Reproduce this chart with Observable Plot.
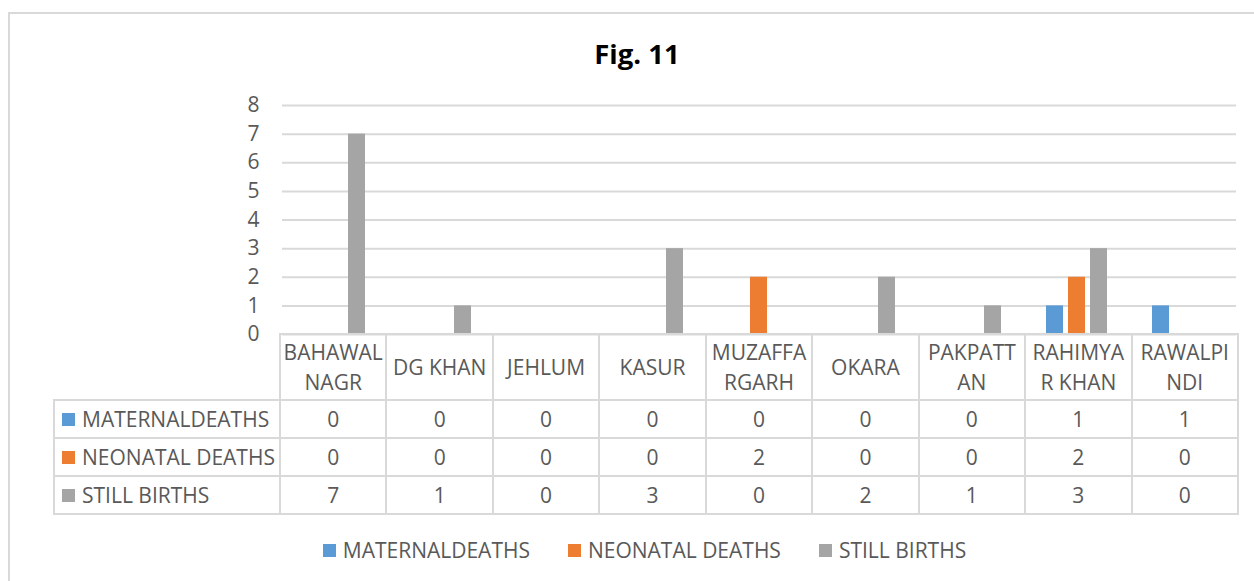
<!DOCTYPE html>
<html>
<head>
<meta charset="utf-8">
<script src="https://cdn.jsdelivr.net/npm/d3@7"></script>
<script src="https://cdn.jsdelivr.net/npm/@observablehq/plot@0.6"></script>
<style>
  html, body { margin: 0; padding: 0; background: #fff; overflow: hidden; }
  #wrap { position: relative; width: 1254px; height: 581px; overflow: hidden; font-family: "Open Sans", sans-serif; color: #595959; }
  #frame { position: absolute; left: 8px; top: 12px; width: 1400px; height: 800px; border-top: 2px solid #d9d9d9; border-left: 2px solid #d9d9d9; }
  #title { position: absolute; left: 0; width: 1274px; top: 40px; line-height: 27px; text-align: center; font-size: 27.5px; font-weight: bold; color: #000; }
  #chart { position: absolute; left: 0; top: 0; }
  #chart svg text { font-size: 21px; }
  .line { position: absolute; background: #d9d9d9; }
  .cell { position: absolute; display: flex; align-items: center; justify-content: center; text-align: center; font-size: 21px; line-height: 30px; white-space: pre; }
  .rowlab { position: absolute; display: flex; align-items: center; font-size: 21px; white-space: pre; }
  .sw { display: inline-block; width: 13px; height: 13px; margin-right: 7px; }
  #legend { position: absolute; left: 0; width: 1289px; top: 536px; display: flex; justify-content: center; gap: 38px; font-size: 21px; line-height: 28px; }
  #legend .item { display: flex; align-items: center; white-space: pre; }
</style>
</head>
<body>
<div id="wrap">
  <div id="frame"></div>
  <div id="chart"></div>
  <div id="title">Fig. 11</div>
  <div id="legend"></div>
</div>
<script>
const districts = ["BAHAWALNAGR","DG KHAN","JEHLUM","KASUR","MUZAFFARGARH","OKARA","PAKPATTAN","RAHIMYAR KHAN","RAWALPINDI"];
const districtLabels = ["BAHAWAL\nNAGR","DG KHAN","JEHLUM","KASUR","MUZAFFA\nRGARH","OKARA","PAKPATT\nAN","RAHIMYA\nR KHAN","RAWALPI\nNDI"];
const seriesNames = ["MATERNALDEATHS","NEONATAL DEATHS","STILL BIRTHS"];
const maternalDeaths = [0,0,0,0,0,0,0,1,1];
const neonatalDeaths = [0,0,0,0,2,0,0,2,0];
const stillBirths = [7,1,0,3,0,2,1,3,0];
const seriesColors = ["#5b9bd5","#ed7d31","#a5a5a5"];
const yTicks = [0,1,2,3,4,5,6,7,8];

const seriesValues = [maternalDeaths, neonatalDeaths, stillBirths];
const rows = [];
districts.forEach((d, i) => seriesNames.forEach((s, j) => rows.push({district: d, series: s, value: seriesValues[j][i]})));

const W = 1254, H = 336, ML = 280, MR = 16, MT = 105, MB = 2;
const FONT = '"Open Sans", sans-serif';

const chart = Plot.plot({
  width: W, height: H,
  marginLeft: ML, marginRight: MR, marginTop: MT, marginBottom: MB,
  facet: {data: rows, x: "district", marginTop: 0, marginBottom: 0},
  fx: {domain: districts, padding: 0, axis: null, label: null},
  x: {domain: seriesNames, paddingInner: 0.217, paddingOuter: 0.92, axis: null},
  y: {domain: [0, 8], ticks: yTicks, tickSize: 0, tickPadding: 23, label: null, tickFormat: d => String(d)},
  color: {domain: seriesNames, range: seriesColors},
  style: {fontFamily: FONT, fontSize: "21px", color: "#595959", background: "transparent", overflow: "visible"},
  marks: [
    Plot.ruleY(yTicks, {stroke: "#d9d9d9", strokeWidth: 2}),
    Plot.barY(rows, {x: "series", y: "value", fill: "series"})
  ]
});
document.getElementById("chart").appendChild(chart);

// Data table below the plot, aligned with the same band positions as the facets
const wrap = document.getElementById("wrap");
const band = d3.scaleBand(districts, [ML, W - MR]).paddingInner(0).paddingOuter(0);
const y0 = H - MB;          // baseline of the plot (0)
const headerBottom = 400;
const rowH = 38;
const tableLeft = 54;
const tableRight = W - MR;
const tableBottom = headerBottom + rowH * seriesNames.length;

function line(x, y, w, h) {
  const el = document.createElement("div");
  el.className = "line";
  el.style.left = x + "px"; el.style.top = y + "px";
  el.style.width = w + "px"; el.style.height = h + "px";
  wrap.appendChild(el);
}
const LW = 2;
line(ML - 1, y0 - 1, tableRight - ML + LW, LW);
for (let r = 0; r <= seriesNames.length; r++) line(tableLeft - 1, headerBottom + r * rowH - 1, tableRight - tableLeft + LW, LW);
line(tableLeft - 1, headerBottom - 1, LW, tableBottom - headerBottom + LW);
districts.forEach(d => line(band(d) - 1, y0 - 1, LW, tableBottom - y0 + LW));
line(tableRight - 1, y0 - 1, LW, tableBottom - y0 + LW);

districts.forEach((d, i) => {
  const c = document.createElement("div");
  c.className = "cell";
  c.style.left = band(d) + "px"; c.style.width = band.bandwidth() + "px";
  c.style.top = y0 + "px"; c.style.height = (headerBottom - y0) + "px";
  c.textContent = districtLabels[i];
  wrap.appendChild(c);
});

seriesNames.forEach((s, j) => {
  const top = headerBottom + j * rowH;
  const lab = document.createElement("div");
  lab.className = "rowlab";
  lab.style.left = (tableLeft + 8) + "px"; lab.style.top = top + "px"; lab.style.height = rowH + "px";
  lab.innerHTML = `<span class="sw" style="background:${seriesColors[j]}"></span>`;
  lab.appendChild(document.createTextNode(s));
  wrap.appendChild(lab);
  districts.forEach((d, i) => {
    const c = document.createElement("div");
    c.className = "cell";
    c.style.left = band(d) + "px"; c.style.width = band.bandwidth() + "px";
    c.style.top = top + "px"; c.style.height = rowH + "px";
    c.textContent = String(seriesValues[j][i]);
    wrap.appendChild(c);
  });
});

// Bottom legend
const legend = document.getElementById("legend");
seriesNames.forEach((s, j) => {
  const it = document.createElement("div");
  it.className = "item";
  it.innerHTML = `<span class="sw" style="background:${seriesColors[j]}"></span>`;
  it.appendChild(document.createTextNode(s));
  legend.appendChild(it);
});
</script>
</body>
</html>
